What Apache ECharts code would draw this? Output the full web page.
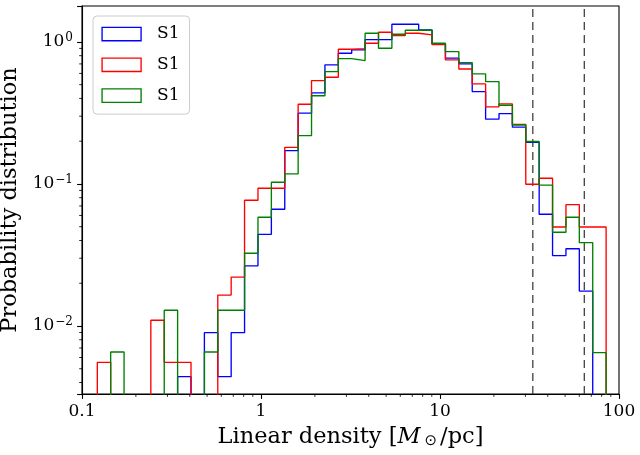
<!DOCTYPE html>
<html>
<head>
<meta charset="utf-8">
<script src="https://cdn.jsdelivr.net/npm/echarts@6/dist/echarts.min.js"></script>
<style>
html,body{margin:0;padding:0;background:#fff;}
#chart{width:640px;height:455px;}
</style>
</head>
<body>
<div id="chart"></div>
<script>
// Histogram bin edges (log-spaced), Linear density [Msun/pc]
const binEdges = [0.1218, 0.1446, 0.1718, 0.2041, 0.2424, 0.2880, 0.3421, 0.4064, 0.4828, 0.5735,
  0.6813, 0.8094, 0.9618, 1.1427, 1.3575, 1.6126, 1.9157, 2.2757, 2.7035, 3.2118,
  3.8154, 4.5330, 5.3850, 6.3973, 7.5996, 9.0280, 10.7227, 12.7410, 15.1357, 17.9803,
  21.3599, 25.3748, 30.1442, 35.8100, 42.540, 50.536, 60.034, 71.318, 84.72];

const seriesNames = ['S1', 'S1', 'S1'];
const seriesColors = ['#0000ff', '#ff0000', '#008000'];

const blueValues = [0, 0, 0, 0, 0, 0, 0.0044, 0, 0.00897, 0.0044,
  0.00897, 0.0265, 0.0442, 0.0664, 0.1716, 0.315, 0.4375, 0.689, 0.832, 0.878,
  1.038, 1.038, 1.332, 1.332, 1.215, 0.968, 0.768, 0.70, 0.447, 0.286,
  0.313, 0.251, 0.1965, 0.0612, 0.0313, 0.035, 0.0176, 0];

const redValues = [0.00555, 0, 0, 0, 0.01097, 0.00555, 0.00555, 0, 0, 0.0165,
  0.0221, 0.0768, 0.0933, 0.0933, 0.181, 0.364, 0.534, 0.564, 0.888, 0.897,
  0.979, 1.17, 1.108, 1.151, 1.12, 0.957, 0.747, 0.645, 0.506, 0.349,
  0.366, 0.263, 0.0995, 0.1097, 0.0498, 0.0715, 0.0498, 0.0498];

const greenValues = [0, 0.00656, 0, 0, 0, 0.0129, 0, 0, 0.00656, 0.0129,
  0.0129, 0.0325, 0.0583, 0.1028, 0.1176, 0.219, 0.418, 0.618, 0.763, 0.739,
  1.151, 0.902, 1.133, 1.208, 1.208, 0.979, 0.855, 0.715, 0.595, 0.525,
  0.358, 0.260, 0.199, 0.098, 0.0457, 0.0583, 0.0386, 0.00649];

const vlinePositions = [33, 64];

const xMin = 0.1, xMax = 100;
const yMin = 0.00332, yMax = 1.79;

const FONT = 'DejaVu Serif';
const FLOOR = 1e-7; // empty bins drop below the axis

function stepData(values) {
  const pts = [[binEdges[0], FLOOR]];
  for (let k = 0; k < values.length; k++) {
    pts.push([binEdges[k], values[k] > 0 ? values[k] : FLOOR]);
  }
  const last = values[values.length - 1];
  pts.push([binEdges[values.length], last > 0 ? last : FLOOR]);
  pts.push([binEdges[values.length], FLOOR]);
  return pts;
}

// minor tick positions (2..9 x decade)
const xMinor = [];
[0.1, 1, 10].forEach(d => { for (let m = 2; m <= 9; m++) xMinor.push(m * d); });
const yMinor = [];
[0.001, 0.01, 0.1, 1].forEach(d => { for (let m = 2; m <= 9; m++) { const v = m * d; if (v > yMin && v < yMax) yMinor.push(v); } });

const valueSets = [blueValues, redValues, greenValues];
const keys = ['blue', 'red', 'green'];

const series = valueSets.map((vals, i) => ({
  name: keys[i],
  type: 'line',
  step: 'end',
  data: stepData(vals),
  showSymbol: false,
  symbol: 'none',
  clip: true,
  lineStyle: { color: seriesColors[i], width: 1.35 },
  itemStyle: { color: seriesColors[i] },
  z: 3 + i
}));

vlinePositions.forEach(v => {
  series.push({
    type: 'line',
    data: [[v, yMin], [v, yMax]],
    showSymbol: false,
    symbol: 'none',
    lineStyle: { color: '#404040', width: 1.3, type: [8, 5] },
    z: 2,
    silent: true
  });
});

// minor ticks drawn with the axis scales
series.push({
  type: 'custom',
  silent: true,
  z: 10,
  clip: false,
  data: xMinor.map(v => [v, yMin]),
  renderItem: function (params, api) {
    const p = api.coord([api.value(0), yMin]);
    return { type: 'line', shape: { x1: p[0], y1: p[1], x2: p[0], y2: p[1] + 2.8 }, style: { stroke: '#000', lineWidth: 0.85 } };
  }
});
series.push({
  type: 'custom',
  silent: true,
  z: 10,
  clip: false,
  data: yMinor.map(v => [xMin, v]),
  renderItem: function (params, api) {
    const p = api.coord([xMin, api.value(1)]);
    return { type: 'line', shape: { x1: p[0], y1: p[1], x2: p[0] - 2.8, y2: p[1] }, style: { stroke: '#000', lineWidth: 0.85 } };
  }
});

function isPow10(v) {
  const l = Math.log10(v);
  return Math.abs(l - Math.round(l)) < 1e-6;
}

const chart = echarts.init(document.getElementById('chart'), null, { renderer: 'canvas' });
chart.setOption({
  animation: false,
  backgroundColor: '#ffffff',
  textStyle: { fontFamily: FONT },
  grid: { left: 82, right: 21, top: 6, bottom: 61, containLabel: false, outerBoundsMode: 'none', show: true, borderColor: '#000', borderWidth: 1.1, backgroundColor: 'transparent' },
  legend: {
    orient: 'vertical',
    left: 93, top: 16,
    padding: [9.5, 10, 10, 8.4],
    itemWidth: 39, itemHeight: 13.4, itemGap: 13.8,
    icon: 'rect',
    backgroundColor: 'rgba(255,255,255,0.8)',
    borderColor: '#cccccc', borderWidth: 1, borderRadius: 4,
    data: keys.map((k, i) => ({ name: k, itemStyle: { color: '#ffffff', borderColor: seriesColors[i], borderWidth: 1.35 } })),
    formatter: function (name) { return seriesNames[keys.indexOf(name)]; },
    textStyle: { fontFamily: FONT, fontSize: 17, color: '#000', padding: [0, 0, 0, 11] },
    selectedMode: false
  },
  xAxis: {
    type: 'log', logBase: 10, min: xMin, max: xMax,
    name: '{n|Linear density [}{i|M}{o|⊙}{n|/pc]}',
    nameLocation: 'middle', nameGap: 32,
    nameTextStyle: {
      fontFamily: FONT, color: '#000',
      rich: {
        n: { fontFamily: FONT, fontSize: 22.5, color: '#000' },
        i: { fontFamily: FONT, fontSize: 22.5, fontStyle: 'italic', color: '#000' },
        o: { fontFamily: 'DejaVu Sans', fontSize: 15, color: '#000', padding: [7, 3, 0, 4] }
      }
    },
    splitLine: { show: false },
    axisLine: { lineStyle: { color: '#000', width: 1.1 } },
    axisTick: { show: true, inside: false, length: 4.9, lineStyle: { color: '#000', width: 1.1 } },
    axisLabel: {
      margin: 9, fontFamily: FONT, fontSize: 17, color: '#000',
      showMinLabel: true, showMaxLabel: true,
      formatter: function (v) {
        if (!isPow10(v)) return '';
        const n = Math.round(Math.log10(v));
        return n < 0 ? '0.' + '0'.repeat(-n - 1) + '1' : '1' + '0'.repeat(n);
      }
    }
  },
  yAxis: {
    type: 'log', logBase: 10, min: yMin, max: yMax,
    name: 'Probability distribution',
    nameLocation: 'middle', nameGap: 53, nameRotate: 90,
    nameTextStyle: { fontFamily: FONT, fontSize: 22.5, color: '#000' },
    splitLine: { show: false },
    axisLine: { lineStyle: { color: '#000', width: 1.1 } },
    axisTick: { show: true, inside: false, length: 4.9, lineStyle: { color: '#000', width: 1.1 } },
    axisLabel: {
      margin: 9, color: '#000',
      formatter: function (v) {
        if (!isPow10(v)) return '';
        const n = Math.round(Math.log10(v));
        return '{b|10}{s|' + (n < 0 ? '\u2212' + (-n) : n) + '}';
      },
      rich: {
        b: { fontFamily: FONT, fontSize: 17, color: '#000' },
        s: { fontFamily: FONT, fontSize: 12, color: '#000', padding: [0, 0, 9, 1] }
      }
    }
  },
  series: series
});
</script>
</body>
</html>
